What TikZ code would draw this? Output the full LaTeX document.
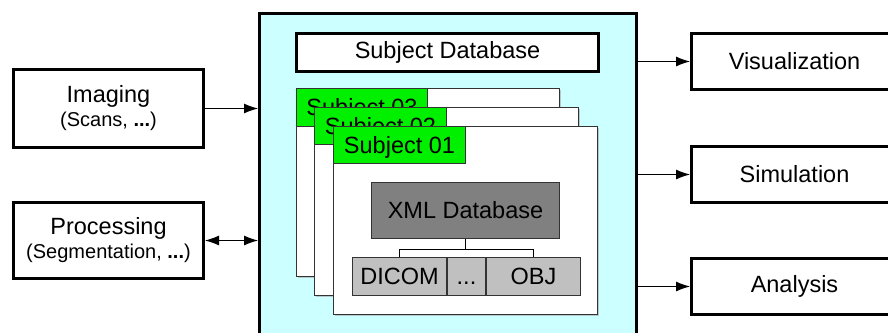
\documentclass[tikz,border=0pt]{standalone}
\usepackage{fontspec}
\setmainfont{Liberation Sans}
\usepackage{tikz}
\usetikzlibrary{positioning,arrows.meta,calc,shadows}
\definecolor{dbcyan}{HTML}{CCFFFF}
\definecolor{tabgreen}{HTML}{00F000}
\definecolor{xmlgray}{HTML}{808080}
\definecolor{filegray}{HTML}{C0C0C0}
\newcommand{\bigtxt}{\fontsize{23.5}{24}\selectfont}
\newcommand{\smalltxt}{\fontsize{20}{24}\selectfont}

\begin{document}
\begin{tikzpicture}[x=1pt,y=-1pt,
 box/.style={draw=black,line width=3pt,fill=white,anchor=north west,inner sep=0pt,align=center,font=\bigtxt},
 page/.style={draw=black!80,line width=1pt,fill=white,anchor=north west,inner sep=0pt,
   drop shadow={shadow xshift=1.5pt,shadow yshift=-1.5pt,fill=black!35,opacity=0.6}},
 tab/.style={draw=black!80,line width=1pt,fill=tabgreen,anchor=north west,inner sep=0pt,font=\bigtxt,text height=19pt,text depth=3pt},
 file/.style={draw=black!80,line width=1pt,anchor=north west,inner sep=0pt,font=\bigtxt,text height=19pt,text depth=3pt},
 arr/.style={-{Latex[length=14pt,width=10pt]},line width=1pt}]
\useasboundingbox (0,0) rectangle (888,332);
\clip (0,0) rectangle (888,332);
% database frame
\node[box,fill=dbcyan,minimum width=377pt,minimum height=335pt] (db) at (258,12) {};
\node[box,minimum width=302pt,minimum height=38pt] (subjdb) at (295,32) {Subject Database};
% subject pages
\node[page,minimum width=263pt,minimum height=188pt] (page3) at (296,88) {};
\node[tab,minimum width=131pt,minimum height=38pt] (tab3) at (296,88) {Subject 03};
\node[page,minimum width=264pt,minimum height=188pt] (page2) at (314,107) {};
\node[tab,minimum width=132pt,minimum height=37pt] (tab2) at (314,107) {Subject 02};
\node[page,minimum width=264pt,minimum height=188pt] (page1) at (333,126) {};
\node[tab,minimum width=132pt,minimum height=37pt] (tab1) at (333,126) {Subject 01};
\node[file,fill=xmlgray,minimum width=188pt,minimum height=56pt] (xml) at (371,182) {XML Database};
\node[file,fill=filegray,minimum width=94pt,minimum height=38pt] (dicom) at (352,257) {DICOM};
\node[file,fill=filegray,minimum width=38pt,minimum height=38pt,right=0pt of dicom.north east,anchor=north west] (dots) {...};
\node[file,fill=filegray,minimum width=94pt,minimum height=38pt,right=0pt of dots.north east,anchor=north west] (obj) {OBJ};
\draw[line width=1pt] (xml.south) -- ++(0,10) -| (dicom.north);
\draw[line width=1pt] (xml.south) -- ++(0,10) -| (obj.north);
% inputs
\node[box,minimum width=190pt,minimum height=78pt] (imaging) at (12,68) {Imaging\\{\smalltxt(Scans, \textbf{...})}};
\node[box,minimum width=190pt,minimum height=76pt] (processing) at (12,201) {Processing\\{\smalltxt(Segmentation, \textbf{...})}};
\draw[arr] (imaging.east) -- (imaging.east -| db.west);
\draw[arr,{Latex[length=14pt,width=10pt]}-{Latex[length=14pt,width=10pt]}] (processing.east) -- (processing.east -| db.west);
% outputs
\node[box,minimum width=206pt,minimum height=56pt] (vis) at (690,32) {Visualization};
\node[box,minimum width=206pt,minimum height=56pt] (sim) at (690,145) {Simulation};
\node[box,minimum width=206pt,minimum height=56pt] (ana) at (690,257) {Analysis};
\draw[arr] (vis.west -| db.east) -- (vis.west);
\draw[arr] (sim.west -| db.east) -- (sim.west);
\draw[arr] (ana.west -| db.east) -- (ana.west);
\end{tikzpicture}
\end{document}
